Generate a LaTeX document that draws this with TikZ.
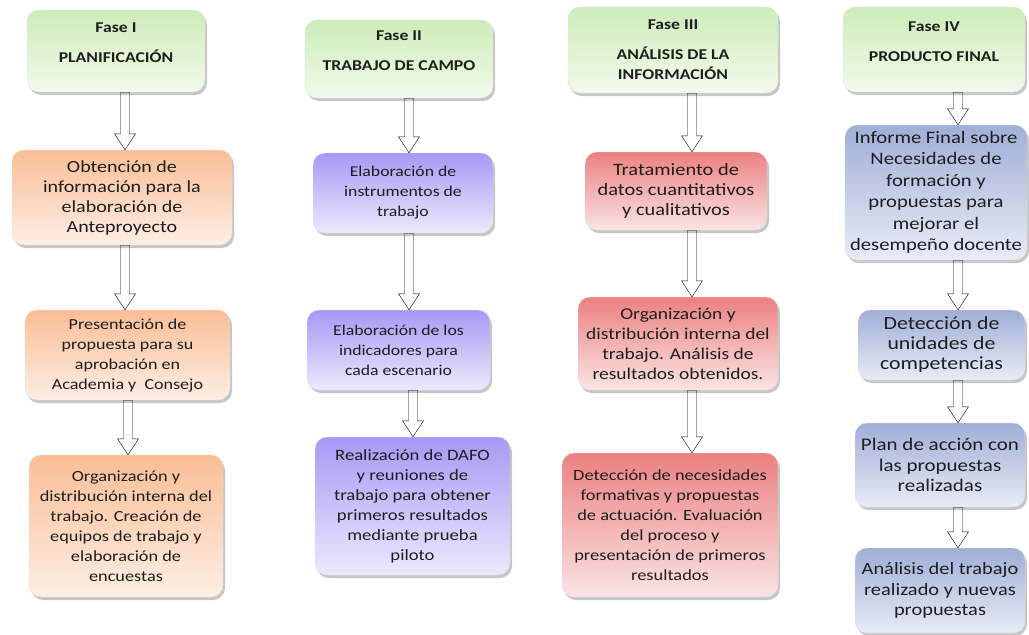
\documentclass[tikz,border=0pt]{standalone}
\usepackage{fontspec}
\setmainfont{Carlito}[FakeStretch=1.18]
\usetikzlibrary{calc,shadows}
\definecolor{textoOscuro}{HTML}{1E1E1E}
\definecolor{verdeA}{RGB}{205,236,185}
\definecolor{verdeB}{RGB}{242,250,236}
\definecolor{naranjaA}{RGB}{250,190,150}
\definecolor{naranjaB}{RGB}{253,238,228}
\definecolor{moradoA}{RGB}{168,152,245}
\definecolor{moradoB}{RGB}{236,233,252}
\definecolor{rojoA}{RGB}{236,128,128}
\definecolor{rojoB}{RGB}{250,228,228}
\definecolor{azulA}{RGB}{160,174,215}
\definecolor{azulB}{RGB}{232,236,246}
\begin{document}
\begin{tikzpicture}
[x=1pt,y=-1pt,
  nodeDecorate/.style={shape=rectangle,rounded corners=12pt,draw=black!12,
    align=center,text=textoOscuro,font=\fontsize{15}{20}\selectfont,
    drop shadow={shadow xshift=2pt,shadow yshift=-3pt,opacity=0.45}},%
  faseDecorate/.style={nodeDecorate,top color=verdeA,bottom color=verdeB,
    font=\bfseries\fontsize{15}{20}\selectfont},%
  planDecorate/.style={nodeDecorate,top color=naranjaA,bottom color=naranjaB},%
  campoDecorate/.style={nodeDecorate,top color=moradoA,bottom color=moradoB},%
  analisisDecorate/.style={nodeDecorate,top color=rojoA,bottom color=rojoB},%
  productoDecorate/.style={nodeDecorate,top color=azulA,bottom color=azulB},%
  flechaDecorate/.style={draw=black!75,fill=white,line width=0.9pt,line join=miter,
    to path={let \p1=(\tikztostart), \p2=(\tikztotarget) in
      (\x1-4.5pt,\y1) -- (\x1-4.5pt,\y2+16pt) -- (\x1-10.5pt,\y2+16pt) -- (\x1,\y2)
      -- (\x1+10.5pt,\y2+16pt) -- (\x1+4.5pt,\y2+16pt) -- (\x1+4.5pt,\y1) -- cycle}}]
\useasboundingbox (0,0) rectangle (1029,635);
%% Fase I
\node (f1h) at (116,51) [faseDecorate,minimum width=178pt,minimum height=82pt]
  {Fase I\\[10pt]PLANIFICACIÓN\\[-4pt]};
\node (f1a) at (122,197.5) [planDecorate,minimum width=220pt,minimum height=95pt,
  font=\fontsize{17}{20}\selectfont]
  {Obtención de\\información para la\\elaboración de\\Anteproyecto};
\node (f1b) at (127.5,355) [planDecorate,minimum width=205pt,minimum height=90pt,
  font=\fontsize{15.3}{20}\selectfont]
  {Presentación de\\propuesta para su\\aprobación en\\Academia y \ Consejo};
\node (f1c) at (126,526) [planDecorate,minimum width=194pt,minimum height=142pt,
  font=\fontsize{15.5}{20}\selectfont]
  {Organización y\\distribución interna del\\trabajo. Creación de\\equipos de trabajo y\\elaboración de\\encuestas};
%% Fase II
\node (f2h) at (399,59) [faseDecorate,minimum width=188pt,minimum height=78pt]
  {Fase II\\[10pt]TRABAJO DE CAMPO\\[-4pt]};
\node (f2a) at (403,193) [campoDecorate,minimum width=180pt,minimum height=80pt]
  {Elaboración de\\instrumentos de\\trabajo};
\node (f2b) at (398.5,350) [campoDecorate,minimum width=183pt,minimum height=80pt]
  {Elaboración de los\\indicadores para\\cada escenario};
\node (f2c) at (412.5,506) [campoDecorate,minimum width=195pt,minimum height=138pt,
  font=\fontsize{15.8}{20}\selectfont]
  {Realización de DAFO\\y reuniones de\\trabajo para obtener\\primeros resultados\\mediante prueba\\piloto};
%% Fase III
\node (f3h) at (673,50) [faseDecorate,minimum width=210pt,minimum height=86pt]
  {Fase III\\[10pt]ANÁLISIS DE LA\\INFORMACIÓN};
\node (f3a) at (676,191) [analisisDecorate,minimum width=182pt,minimum height=78pt,
  font=\fontsize{17.3}{20}\selectfont]
  {Tratamiento de\\datos cuantitativos\\y cualitativos};
\node (f3b) at (678,343.5) [analisisDecorate,minimum width=200pt,minimum height=93pt,
  font=\fontsize{16.5}{20}\selectfont]
  {Organización y\\distribución interna del\\trabajo. Análisis de\\resultados obtenidos.};
\node (f3c) at (670,525) [analisisDecorate,minimum width=216pt,minimum height=144pt,
  font=\fontsize{15.6}{20}\selectfont]
  {Detección de necesidades\\formativas y propuestas\\de actuación. Evaluación\\del proceso y\\presentación de primeros\\resultados};
%% Fase IV
\node (f4h) at (934,49.5) [faseDecorate,minimum width=182pt,minimum height=85pt]
  {Fase IV\\[10pt]PRODUCTO FINAL\\[-4pt]};
\node (f4a) at (936,192.5) [productoDecorate,minimum width=182pt,minimum height=135pt,
  font=\fontsize{17.5}{21.5}\selectfont]
  {Informe Final sobre\\Necesidades de\\formación y\\propuestas para\\mejorar el\\desempeño docente};
\node (f4b) at (941.5,345) [productoDecorate,minimum width=167pt,minimum height=70pt,
  font=\fontsize{18.5}{20}\selectfont]
  {Detección de\\unidades de\\competencias};
\node (f4c) at (940,465) [productoDecorate,minimum width=170pt,minimum height=84pt,
  font=\fontsize{17.8}{20.5}\selectfont]
  {Plan de acción con\\las propuestas\\realizadas};
\node (f4d) at (940,590.5) [productoDecorate,minimum width=170pt,minimum height=85pt,
  font=\fontsize{17.3}{20.5}\selectfont]
  {Análisis del trabajo\\realizado y nuevas\\propuestas};
%% block arrows
\draw ([xshift=9pt]f1h.south) to[flechaDecorate] (f1a.north);
\draw ([xshift=3pt]f1a.south) to[flechaDecorate] (f1b.north);
\draw ([xshift=0.5pt]f1b.south) to[flechaDecorate] (f1c.north);
\draw ([xshift=10pt]f2h.south) to[flechaDecorate] (f2a.north);
\draw ([xshift=6pt]f2a.south) to[flechaDecorate] (f2b.north);
\draw ([xshift=14.5pt]f2b.south) to[flechaDecorate] (f2c.north);
\draw ([xshift=19pt]f3h.south) to[flechaDecorate] (f3a.north);
\draw ([xshift=16pt]f3a.south) to[flechaDecorate] (f3b.north);
\draw ([xshift=14pt]f3b.south) to[flechaDecorate] (f3c.north);
\draw ([xshift=24pt]f4h.south) to[flechaDecorate] (f4a.north);
\draw ([xshift=22pt]f4a.south) to[flechaDecorate] (f4b.north);
\draw ([xshift=16.5pt]f4b.south) to[flechaDecorate] (f4c.north);
\draw ([xshift=18pt]f4c.south) to[flechaDecorate] (f4d.north);
\end{tikzpicture}
\end{document}
